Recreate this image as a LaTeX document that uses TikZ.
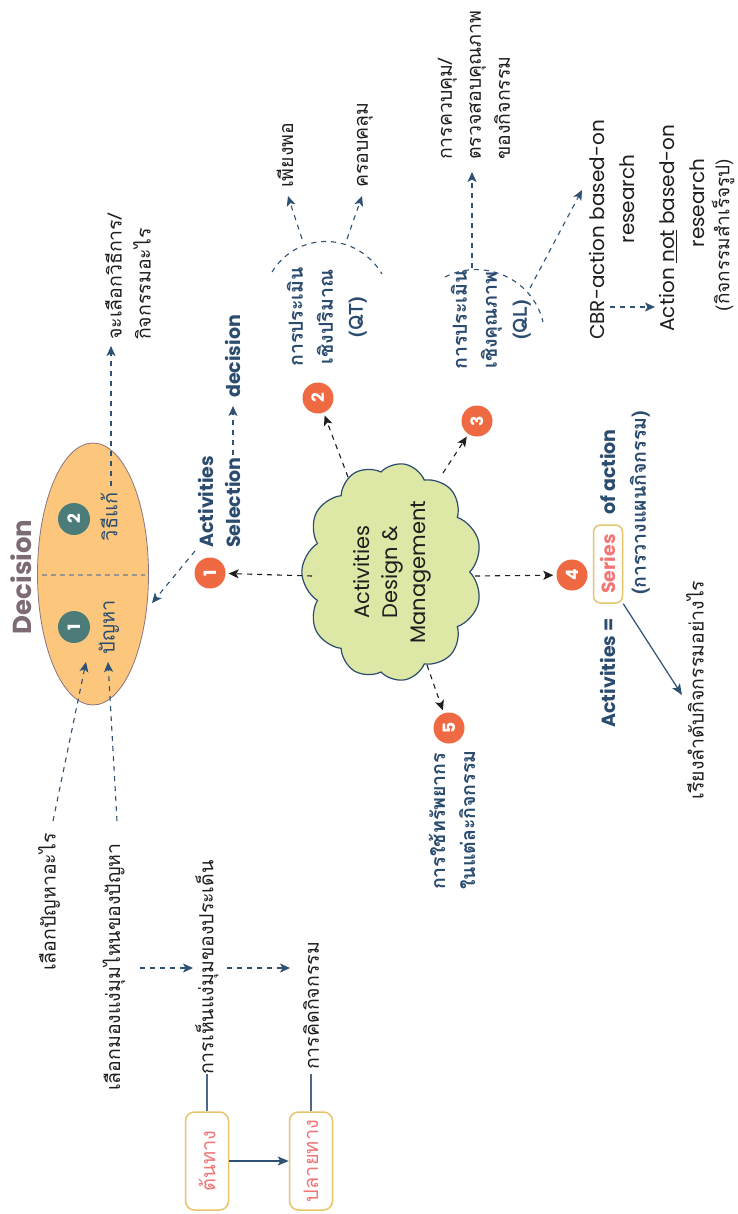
\documentclass[tikz,border=0pt]{standalone}
\usepackage{fontspec}
\setmainfont{Poppins}
\newfontfamily\thaif[Script=Thai]{Loma}
\usetikzlibrary{shapes.geometric,shapes.symbols,arrows.meta}
\definecolor{dblue}{HTML}{2B4C6F}
\definecolor{arrowblue}{HTML}{2E5174}
\definecolor{orangec}{HTML}{EF6A42}
\definecolor{tealc}{HTML}{4B7C79}
\definecolor{ellfill}{HTML}{FCC77D}
\definecolor{ellline}{HTML}{8C7480}
\definecolor{cloudfill}{HTML}{DDE7A6}
\definecolor{decgray}{HTML}{7C6B74}
\definecolor{boxline}{HTML}{E8C56B}
\definecolor{pinktext}{HTML}{F27676}
\definecolor{txt}{HTML}{1E1E1E}
\definecolor{divgray}{HTML}{9C9490}
\definecolor{lineblue}{HTML}{4C6887}
\tikzset{
  rt/.style={rotate=90, inner sep=0pt},
  thblack/.style={rt, text=txt, font=\thaif\fontsize{19.5}{29}\selectfont},
  thblue/.style={rt, text=dblue, font=\thaif\bfseries\fontsize{19.5}{30}\selectfont},
  enblue/.style={rt, text=dblue, font=\bfseries\fontsize{19}{27}\selectfont},
  enblack/.style={rt, text=txt, font=\fontsize{20}{30}\selectfont},
  numo/.style={circle, fill=orangec, minimum size=31pt, inner sep=0pt, text=white, font=\bfseries\fontsize{17}{17}\selectfont, rotate=90},
  numt/.style={circle, fill=tealc, minimum size=32pt, inner sep=0pt, text=white, font=\bfseries\fontsize{17}{17}\selectfont, rotate=90},
  dasharr/.style={draw=arrowblue, line width=1.1pt, dash pattern=on 5pt off 5pt, -{Stealth[length=10pt,width=9pt,inset=2.5pt]}},
  cloudarr/.style={draw=txt, line width=1.1pt, dash pattern=on 5pt off 5pt, shorten >=3pt, -{Stealth[length=10pt,width=9pt,inset=2.5pt]}},
  solarr/.style={draw=arrowblue, line width=1.2pt, -{Stealth[length=11pt,width=9pt,inset=2.5pt]}},
  dasharc/.style={draw=arrowblue, line width=1.1pt, dash pattern=on 5pt off 5pt},
  yelbox/.style={rt, draw=boxline, line width=1.5pt, text=pinktext},
}
\begin{document}
\begin{tikzpicture}[x=1pt,y=-1pt]
\useasboundingbox (0,0) rectangle (738,1214);
\fill[white] (0,0) rectangle (738,1214);

% ---------- Decision ellipse ----------
\node[rt, text=decgray, font=\bfseries\fontsize{26}{26}\selectfont] (dec) at (21,577) {Decision};
\node[ellipse, draw=ellline, fill=ellfill, line width=0.8pt, minimum width=111pt, minimum height=262pt, inner sep=0pt] (ell) at (93,574) {};
\coordinate (dv1) at (42,575);
\coordinate (dv2) at (145,575);
\draw[divgray, line width=1.3pt, dash pattern=on 5pt off 4pt] (dv1) -- (dv2);
\node[numt] (t1) at (74,627) {1};
\node[numt] (t2) at (74,519) {2};
\node[rt, text=dblue, font=\thaif\fontsize{20}{20}\selectfont] (prob) at (109,627) {ปัญหา};
\node[rt, text=dblue, font=\thaif\fontsize{20}{20}\selectfont] (sol) at (109,517) {วิธีแก้};

\coordinate (solup) at (111,486);
\coordinate (choosetip) at (111,346);
\draw[dasharr] (solup) -- (choosetip);
\node[thblack, anchor=west, align=left] (choose) at (128,340) {จะเลือกวิธีการ/\\กิจกรรมอะไร};

% ---------- Activities selection ----------
\node[numo] (o1) at (210,573) {1};
\node[enblue, anchor=west, align=left] (actsel) at (219,548) {Activities\\Selection};
\coordinate (selend) at (233,455);
\coordinate (dectip) at (233,406);
\draw[dasharr] (selend) -- (dectip);
\node[enblue, anchor=west] (decn) at (233,398) {decision};
\coordinate (a1s) at (195,551);
\coordinate (a1t) at (152,603);
\draw[dasharr] (a1s) -- (a1t);

% ---------- Cloud ----------
\node[cloud, cloud puffs=11, cloud puff arc=115, aspect=1.3, draw=dblue, fill=cloudfill, line width=1.2pt, minimum width=212pt, minimum height=162pt, inner sep=0pt, rotate=90, align=center, text=txt, font=\fontsize{21}{28}\selectfont] (cl) at (392,572) {Activities\\Design \&\\Management};

\node[numo] (o2) at (318,398) {2};
\node[numo] (o3) at (477,421) {3};
\node[numo] (o4) at (572,575) {4};
\node[numo] (o5) at (449,728) {5};
\coordinate (c1s) at (312,576);
\coordinate (c2s) at (348,477);
\coordinate (c3s) at (443,473);
\coordinate (c4s) at (475,576);
\coordinate (c5s) at (427,665);
\draw[cloudarr] (c1s) -- (o1);
\draw[cloudarr] (c2s) -- (o2);
\draw[cloudarr] (c3s) -- (o3);
\draw[cloudarr] (c4s) -- (o4);
\draw[cloudarr] (c5s) -- (o5);

% ---------- QT ----------
\node[thblue, align=center] (qt) at (327,317) {การประเมิน\\เชิงปริมาณ\\(QT)};
\draw[dasharc] (272,272) .. controls (298,230) and (357,232) .. (382,274);
\coordinate (qa1s) at (302,239);
\coordinate (qa1t) at (288,196);
\coordinate (qa2s) at (347,239);
\coordinate (qa2t) at (362,196);
\draw[dasharr] (qa1s) -- (qa1t);
\draw[dasharr] (qa2s) -- (qa2t);
\node[thblack, anchor=west] (enough) at (285,188) {เพียงพอ};
\node[thblack, anchor=west] (cover) at (365,188) {ครอบคลุม};

% ---------- QL ----------
\node[thblue, align=center] (ql) at (491,320) {การประเมิน\\เชิงคุณภาพ\\(QL)};
\draw[dasharc] (445,277) .. controls (484,257) and (533,279) .. (543,322);
\coordinate (qlus) at (472,268);
\coordinate (qlut) at (472,172);
\coordinate (qlrs) at (530,288);
\coordinate (qlrt) at (582,190);
\draw[dasharr] (qlus) -- (qlut);
\draw[dasharr] (qlrs) -- (qlrt);
\node[thblack, anchor=west, align=left] (ctrl) at (474,160) {การควบคุม/\\ตรวจสอบคุณภาพ\\ของกิจกรรม};

\node[enblack] (cbr1) at (597,230) {CBR-action based-on};
\node[enblack] (cbr2) at (627,199) {research};
\coordinate (cbra) at (610,307);
\coordinate (cbrb) at (655,307);
\draw[dasharr] (cbra) -- (cbrb);
\node[enblack] (act1) at (668,228) {Action \underline{not} based-on};
\node[enblack] (act2) at (697,203) {research};
\node[rt, text=txt, font=\thaif\fontsize{19}{19}\selectfont] (act3) at (723,235) {(กิจกรรมสำเร็จรูป)};

% ---------- Series ----------
\node[enblue] (acteq) at (608,673) {Activities =};
\node[yelbox, rounded corners=7pt, minimum width=78pt, minimum height=29pt, font=\bfseries\fontsize{19}{19}\selectfont] (series) at (608,564) {Series};
\node[enblue] (ofact) at (608,472) {of action};
\node[thblue] (plan) at (640,503) {(การวางแผนกิจกรรม)};
\coordinate (ordtip) at (682,695);
\draw[solarr] (series.south west) -- (ordtip);
\node[thblack] (order) at (695,690) {เรียงลำดับกิจกรรมอย่างไร};

% ---------- Resources ----------
\node[thblue, anchor=west, align=left] (res) at (452,890) {การใช้ทรัพยากร\\ในแต่ละกิจกรรม};

% ---------- Bottom left ----------
\node[thblack, anchor=west] (selprob) at (49,971) {เลือกปัญหาอะไร};
\node[thblack, anchor=west] (selview) at (114,1091) {เลือกมองแง่มุมไหนของปัญหา};
\coordinate (sp1) at (53,821);
\coordinate (sp2) at (86,662);
\coordinate (sv1) at (117,821);
\coordinate (sv2) at (108,662);
\draw[dasharr] (sp1) -- (sp2);
\draw[dasharr] (sv1) -- (sv2);
\node[thblack, anchor=west] (see) at (207,1075) {การเห็นแง่มุมของประเด็น};
\node[thblack, anchor=west] (think) at (311,1070) {การคิดกิจกรรม};
\coordinate (h1) at (140,968);
\coordinate (h2) at (193,968);
\coordinate (h3) at (227,968);
\coordinate (h4) at (290,968);
\draw[dasharr] (h1) -- (h2);
\draw[dasharr] (h3) -- (h4);
\node[yelbox, rounded corners=9pt, minimum width=98pt, minimum height=43pt, font=\thaif\fontsize{20}{20}\selectfont] (src) at (207,1161) {ต้นทาง};
\node[yelbox, rounded corners=9pt, minimum width=98pt, minimum height=43pt, font=\thaif\fontsize{20}{20}\selectfont] (dst) at (311,1161) {ปลายทาง};
\draw[lineblue, line width=1.3pt] (src.east) -- ++(0,-37);
\draw[lineblue, line width=1.3pt] (dst.east) -- ++(0,-37);
\draw[solarr] (src.south) -- (dst.north);
\end{tikzpicture}
\end{document}
